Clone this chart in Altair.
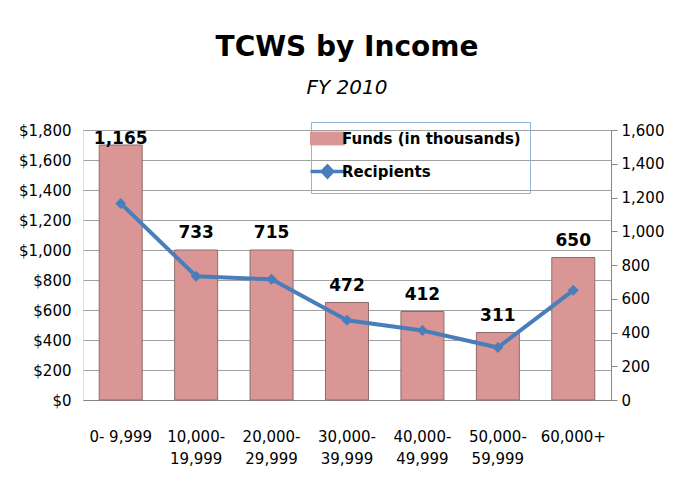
import altair as alt
import pandas as pd

categories = ["0- 9,999", "10,000-\n19,999", "20,000-\n29,999", "30,000-\n39,999",
              "40,000-\n49,999", "50,000-\n59,999", "60,000+"]
funds = [1700, 1000, 1000, 650, 590, 450, 950]
recipients = [1165, 733, 715, 472, 412, 311, 650]
series = ["Funds (in thousands)", "Recipients"]
funds_ticks = [0, 200, 400, 600, 800, 1000, 1200, 1400, 1600, 1800]
recip_ticks = [0, 200, 400, 600, 800, 1000, 1200, 1400, 1600]

df = pd.DataFrame({"Income": categories, "Funds": funds, "Recipients": recipients})

FONT = "DejaVu Sans"
BAR = "#D99694"
BAR_EDGE = "#8C6D6C"
LINE = "#4A7EBB"
GRID = "#A0A0A0"

color_scale = alt.Scale(domain=series, range=[BAR, LINE])
is_rec = "datum.value === 'Recipients'"
legend = alt.Legend(
    title=None, orient="none", legendX=228, legendY=-8,
    strokeColor="#95B3D7", padding=9, rowPadding=12,
    symbolSize=1156,
    symbolType=alt.ExprRef(expr=f"{is_rec} ? 'M-1,0L1,0M-0.3,0L0,-0.32L0.3,0L0,0.32Z' : 'M-1,-0.38L1,-0.38L1,0.38L-1,0.38Z'"),
    symbolFillColor=alt.ExprRef(expr=f"{is_rec} ? '{LINE}' : '{BAR}'"),
    symbolStrokeColor=alt.ExprRef(expr=f"{is_rec} ? '{LINE}' : '{BAR_EDGE}'"),
    symbolStrokeWidth=alt.ExprRef(expr=f"{is_rec} ? 3.5 : 1"),
    symbolOpacity=1,
    labelFont=FONT, labelFontSize=15, labelFontWeight="bold", labelColor="black",
    labelOffset=7, labelLimit=400,
)

x_enc = alt.X("Income:N", sort=categories,
              scale=alt.Scale(paddingInner=0.43, paddingOuter=0.215),
              axis=alt.Axis(title=None, labelAngle=0, labelExpr="split(datum.label, '\\n')",
                            labelFont=FONT, labelFontSize=15, labelColor="black",
                            labelPadding=29, ticks=False, domainColor="#868686",
                            labelLineHeight=22, labelOverlap=False))

left_axis = alt.Axis(title=None, values=funds_ticks, format="$,.0f", grid=True,
                     gridColor=GRID, domain=False, ticks=False, labelOverlap=False,
                     labelFont=FONT, labelFontSize=15, labelColor="black",
                     labelPadding=12)
left_scale = alt.Scale(domain=[0, 1800])

base = alt.Chart(df)

bars = base.transform_calculate(series=f"'{series[0]}'").mark_bar(
    stroke=BAR_EDGE, strokeWidth=1).encode(
    x=x_enc, y=alt.Y("Funds:Q", scale=left_scale, axis=left_axis),
    color=alt.Color("series:N", scale=color_scale, legend=legend),
)

# Excel keeps data labels inside the plot area: clamp the anchor below the top edge
labels = base.transform_calculate(label_at="min(datum.Funds, 1625)").mark_text(
    baseline="bottom", dy=-8, font=FONT, fontSize=17,
    fontWeight="bold", color="black").encode(
    x=alt.X("Income:N", sort=categories),
    y=alt.Y("label_at:Q", scale=left_scale, axis=left_axis),
    text=alt.Text("Recipients:Q", format=","),
)

line = base.transform_calculate(series=f"'{series[1]}'").mark_line(
    strokeWidth=4, point=alt.OverlayMarkDef(shape="diamond", size=120, filled=True)).encode(
    x=alt.X("Income:N", sort=categories),
    y=alt.Y("Recipients:Q", scale=alt.Scale(domain=[0, 1600]),
            axis=alt.Axis(title=None, orient="right", values=recip_ticks, format=",.0f",
                          grid=False, domain=True, domainColor="#868686", ticks=True,
                          tickSize=6, tickColor="#868686", labelPadding=4, labelOverlap=False,
                          labelFont=FONT, labelFontSize=15, labelColor="black")),
    color=alt.Color("series:N", scale=color_scale, legend=legend),
)

chart = alt.layer(alt.layer(bars, labels), line).resolve_scale(y="independent").properties(
    width=528, height=270,
    padding={"left": 10, "top": 25, "right": 5, "bottom": 4},
    title=alt.TitleParams("TCWS by Income", subtitle="FY 2010", font=FONT, fontSize=28,
                          fontWeight="bold", color="black", subtitleFont=FONT,
                          subtitleFontSize=20, subtitleFontStyle="italic",
                          subtitleColor="black", subtitlePadding=16, anchor="middle",
                          offset=24),
).configure_view(stroke=None).configure(background="white")

chart.save("out.html", embed_options={"renderer": "svg", "actions": False})
